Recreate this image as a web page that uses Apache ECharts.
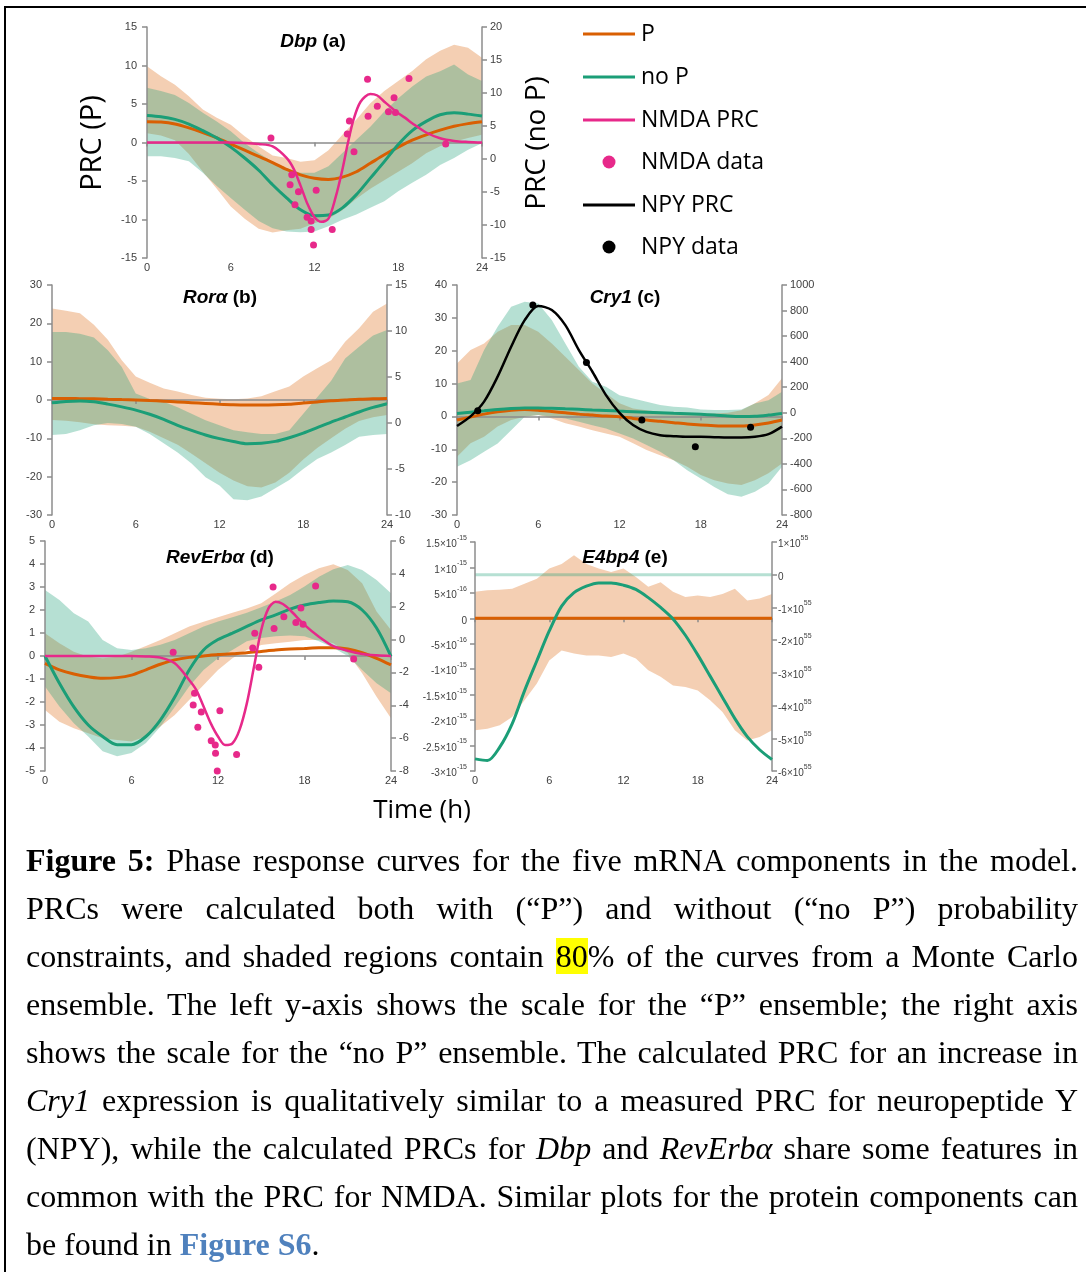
<!DOCTYPE html>
<html>
<head>
<meta charset="utf-8">
<script src="https://cdn.jsdelivr.net/npm/echarts@6/dist/echarts.min.js"></script>
<style>
html,body{margin:0;padding:0;background:#fff;overflow:hidden;}
#wrap{position:relative;width:1086px;height:1272px;overflow:hidden;}
#chart{position:absolute;left:0;top:0;width:1086px;height:1272px;}
#frame{position:absolute;left:4px;top:6px;width:1100px;height:1300px;border:2px solid #000;box-sizing:border-box;pointer-events:none;}
#caption{position:absolute;left:26px;top:836px;width:1052px;font-family:'Liberation Serif','Times New Roman',serif;font-size:32px;line-height:48px;color:#000;}
.ln{text-align:justify;text-align-last:justify;height:48px;}
.ln.last{text-align:left;text-align-last:left;}
.hl{background:#ffff00;}
.link{color:#4f81bd;font-weight:bold;}
</style>
</head>
<body>
<div id="wrap">
  <div id="chart"></div>
  <div id="frame"></div>
  <div id="caption">
    <div class="ln"><b>Figure 5:</b> Phase response curves for the five mRNA components in the model.</div>
    <div class="ln">PRCs were calculated both with (“P”) and without (“no P”) probability</div>
    <div class="ln">constraints, and shaded regions contain <span class="hl">80</span>% of the curves from a Monte Carlo</div>
    <div class="ln">ensemble. The left y-axis shows the scale for the “P” ensemble; the right axis</div>
    <div class="ln">shows the scale for the “no P” ensemble. The calculated PRC for an increase in</div>
    <div class="ln"><i>Cry1</i> expression is qualitatively similar to a measured PRC for neuropeptide Y</div>
    <div class="ln">(NPY), while the calculated PRCs for <i>Dbp</i> and <i>RevErbα</i> share some features in</div>
    <div class="ln">common with the PRC for NMDA. Similar plots for the protein components can</div>
    <div class="ln last">be found in <span class="link">Figure S6</span>.</div>
  </div>
</div>
<script>
// 时间 (h), 每小时一个点
var HOURS = [0,1,2,3,4,5,6,7,8,9,10,11,12,13,14,15,16,17,18,19,20,21,22,23,24];

// (a) Dbp  -- P 在左轴, no P 在右轴
var aP = [2.7,2.65,2.4,1.9,1.3,0.6,-0.2,-1.0,-1.8,-2.6,-3.5,-4.2,-4.65,-4.8,-4.5,-3.8,-2.7,-1.6,-0.6,0.3,1.0,1.6,2.1,2.45,2.7];
var aNoP = [6.6,6.4,6.0,5.3,4.3,3.2,1.8,0.15,-1.7,-3.9,-5.9,-7.7,-8.6,-8.5,-7.4,-5.4,-2.9,-0.4,2.2,4.3,5.7,6.7,7.0,6.8,6.5];
var aPHigh = [9.9,8.6,7.5,6.0,4.3,3.2,2.3,0.8,-0.5,-1.7,-2.0,-2.5,-2.3,-1.0,1.0,3.0,5.1,6.7,8.0,9.3,10.8,11.9,12.7,12.3,11.0];
var aPLow = [1.2,0.9,0.3,-1.5,-3.8,-6.0,-8.3,-9.9,-11.2,-11.7,-11.4,-11.2,-10.5,-9.9,-8.8,-7.3,-6.0,-4.9,-3.8,-2.7,-1.4,-0.5,0.1,0.6,1.0];
var aNoPHigh = [10.8,10.3,9.7,8.5,7.0,5.7,4.2,2.4,0.9,-0.4,-1.4,-2.1,-2.1,-1.1,0.9,2.9,4.9,7.2,9.2,11.0,12.5,13.3,14.3,12.8,11.8];
var aNoPLow = [0.4,0.4,0.15,-0.35,-2.1,-4.1,-5.9,-7.7,-9.4,-10.5,-11.0,-11.1,-11.0,-10.2,-9.2,-8.4,-7.4,-6.4,-4.9,-3.6,-2.4,-0.9,0.15,1.4,2.4];
var aNmdaHours = [0,2,4,6,7,8,9,10,10.5,11,11.5,12,12.5,13,13.5,14,14.4,14.8,15.3,16,16.5,17,18,18.5,19,20,21,22,23,24];
var aNmdaPrc = [0,0,0,0,-0.05,-0.2,-0.5,-2.0,-3.4,-5.6,-8.0,-9.7,-10.3,-9.9,-7.2,-3.5,0,3.0,5.3,6.3,6.1,5.3,3.8,3.2,2.5,1.3,0.55,0.2,0.07,0];
var aNmdaX = [8.88,10.37,10.25,10.85,10.6,11.47,11.76,11.76,11.93,12.12,13.27,14.35,14.5,14.83,15.8,15.84,16.5,17.3,17.7,17.8,18.77,21.4];
var aNmdaY = [0.57,-4.2,-5.5,-6.4,-8.1,-9.7,-10.2,-11.3,-13.3,-6.2,-11.3,1.1,2.8,-1.2,8.2,3.4,4.7,4.0,5.8,3.9,8.3,-0.2];

// (b) Rorα
var bP = [0.4,0.4,0.35,0.3,0.2,0.1,0,-0.15,-0.3,-0.5,-0.7,-0.9,-1.1,-1.25,-1.3,-1.3,-1.25,-1.1,-0.8,-0.5,-0.2,0,0.2,0.3,0.4];
var bNoP = [2.2,2.35,2.4,2.3,2.05,1.75,1.4,0.95,0.4,-0.25,-0.8,-1.3,-1.7,-2.0,-2.25,-2.2,-2.0,-1.6,-1.1,-0.5,0.1,0.65,1.2,1.7,2.1];
var bPHigh = [23.9,23.3,22.6,19.6,15.7,10.4,6.1,4.5,3.0,2.2,1.3,0.6,0.3,0.2,0.4,1.0,2.3,3.5,6.1,8.3,10.4,15.2,18.7,23.0,25.2];
var bPLow = [-5.2,-5.4,-5.8,-6.3,-6.6,-6.7,-7.0,-8.3,-10.0,-11.7,-14.0,-16.5,-19.0,-21.0,-22.5,-22.8,-21.5,-19.0,-15.5,-12.5,-10.0,-7.5,-5.5,-4.5,-3.9];
var bNoPHigh = [9.9,9.9,9.7,9.3,7.9,6.1,3.2,2.6,2.3,1.7,1.0,0.3,-0.25,-0.8,-1.0,-1.2,-1.2,-0.8,1.0,2.8,4.6,7.0,8.3,9.5,10.1];
var bNoPLow = [-1.3,-1.2,-0.8,-0.25,0,-0.1,-0.4,-1.2,-2.2,-3.2,-4.4,-5.9,-6.8,-8.3,-8.4,-8.0,-7.1,-6.2,-5.0,-3.9,-3.2,-2.4,-1.5,-1.3,-1.2];

// (c) Cry1
var cP = [-1.1,-0.2,0.7,1.4,1.9,2.1,1.9,1.5,1.1,0.7,0.4,0.1,-0.1,-0.6,-1.1,-1.5,-1.9,-2.3,-2.6,-2.8,-2.9,-2.9,-2.6,-2.0,-1.1];
var cNoP = [-5,5,15,26,34,38,38,35,31,27,22,18,13,9,5,1,-3,-7,-12,-18,-26,-30,-28,-18,-5];
var cPHigh = [16.1,20.2,22.2,25.8,27.8,27.8,25.8,22.2,18.2,14.1,10.0,7.0,4.0,2.4,1.9,1.4,1.1,0.7,0.9,0.9,1.1,1.9,4.0,6.5,11.6];
var cPLow = [-12.3,-8.2,-6.2,-3.1,-1.1,-0.1,0.4,-0.6,-2.1,-3.1,-4.2,-5.2,-6.2,-8.2,-10.2,-11.8,-13.3,-15.3,-17.8,-19.4,-20.4,-20.9,-19.4,-17.3,-14.3];
var cNoPHigh = [230,256,491,674,830,869,856,726,543,360,243,204,138,112,86,60,47,42,26,21,21,26,73,99,164];
var cNoPLow = [-423,-371,-305,-240,-136,-31,-18,-31,-44,-70,-97,-123,-162,-201,-253,-305,-371,-449,-514,-580,-637,-658,-619,-553,-423];
var cNpyPrc = [-2.9,0,4.5,12.1,21.2,29.3,33.6,32.4,27.8,20.2,13.6,6.5,1.1,-2.6,-4.7,-5.7,-6.0,-6.2,-6.2,-6.3,-6.4,-6.4,-6.2,-5.4,-3.1];
var cNpyX = [1.53,5.6,9.56,13.65,17.6,21.68];
var cNpyY = [1.7,33.9,16.4,-1.1,-9.2,-3.3];

// (d) RevErbα
var dP = [-0.32,-0.6,-0.78,-0.9,-0.97,-0.94,-0.83,-0.6,-0.36,-0.17,-0.06,0,0.06,0.1,0.14,0.2,0.26,0.3,0.33,0.36,0.36,0.3,0.14,-0.1,-0.39];
var dNoP = [-1.0,-2.66,-4.1,-5.2,-5.9,-6.4,-6.4,-5.9,-4.9,-3.5,-1.85,-0.63,0,0.39,0.8,1.2,1.5,1.85,2.1,2.25,2.35,2.3,1.8,0.7,-1.03];
var dPHigh = [0.99,0.55,0.19,-0.03,-0.1,-0.03,0.19,0.43,0.7,0.99,1.28,1.49,1.68,1.88,2.07,2.29,2.72,3.16,3.52,3.81,3.99,3.74,3.16,1.93,1.13];
var dPLow = [-2.35,-2.86,-3.14,-3.36,-3.58,-3.65,-3.72,-3.5,-3.07,-2.57,-1.91,-1.26,-0.61,-0.1,0.26,0.48,0.55,0.62,0.7,0.7,0.55,0.12,-0.75,-1.77,-2.71];
var dNoPHigh = [3.02,2.41,1.6,1.1,-0.02,-0.53,-0.63,-0.53,-0.32,-0.02,0.39,0.79,1.1,1.36,1.64,1.97,2.31,2.72,3.23,3.83,4.28,4.54,4.24,3.63,2.82];
var dNoPLow = [-2.86,-4.08,-5.09,-5.9,-6.8,-7.1,-6.9,-6.3,-5.3,-4.1,-2.86,-1.85,-1.14,-0.63,-0.1,0.1,0.2,0.25,0.2,-0.1,-0.5,-1.0,-1.85,-2.66,-3.27];
var dNmdaHours = [0,2,4,6,7,8,9,10,10.5,11,11.5,12,12.5,13,13.5,14,14.5,15,15.5,16,16.5,17,18,19,20,21,22,23,24];
var dNmdaPrc = [0,0,0,0,-0.02,-0.07,-0.32,-1.04,-1.48,-2.2,-2.93,-3.5,-3.87,-3.8,-3.2,-2.06,-0.46,1.13,2.07,2.36,2.26,2.0,1.35,0.84,0.43,0.23,0.09,0.03,0];
var dNmdaX = [8.89,10.37,10.28,10.84,10.6,11.53,11.81,11.83,11.95,12.13,13.29,14.41,14.55,14.83,15.82,15.89,16.57,17.4,17.75,17.9,18.77,21.41];
var dNmdaY = [0.16,-1.62,-2.13,-2.43,-3.1,-3.68,-3.87,-4.23,-5.0,-2.38,-4.28,0.35,0.99,-0.49,3.0,1.2,1.71,1.46,2.09,1.38,3.04,-0.13];

// (e) E4bp4  左轴单位 1e-15, 右轴单位 1e55
var eFlatHours = [0,24];
var eP = [0,0];
var eNoP = [-5.63,-5.68,-5.27,-4.56,-3.55,-2.63,-1.72,-0.96,-0.55,-0.35,-0.25,-0.25,-0.32,-0.45,-0.7,-1.0,-1.35,-1.85,-2.45,-3.1,-3.75,-4.4,-4.95,-5.35,-5.65];
var ePHigh = [0.52,0.55,0.56,0.58,0.68,0.78,0.98,1.07,1.24,1.07,0.98,0.91,0.98,0.81,0.62,0.71,0.52,0.42,0.45,0.42,0.48,0.58,0.35,0.39,0.48];
var ePLow = [-2.2,-2.17,-2.1,-1.94,-1.61,-1.28,-0.83,-0.63,-0.69,-0.73,-0.73,-0.76,-0.69,-0.79,-1.02,-1.15,-1.32,-1.35,-1.42,-1.61,-1.84,-2.2,-2.4,-2.33,-2.2];
var eNoPHigh = [0.045,0.045];
var eNoPLow = [-0.045,-0.045];
var eLeftTickValues = [-3,-2.5,-2,-1.5,-1,-0.5,0,0.5,1,1.5];
var eLeftTickLabels = ['-3×10^-15','-2.5×10^-15','-2×10^-15','-1.5×10^-15','-1×10^-15','-5×10^-16','0','5×10^-16','1×10^-15','1.5×10^-15'];
var eRightTickValues = [-6,-5,-4,-3,-2,-1,0,1];
var eRightTickLabels = ['-6×10^55','-5×10^55','-4×10^55','-3×10^55','-2×10^55','-1×10^55','0','1×10^55'];

// 面板标题
var panelGenes = ['Dbp','Rorα','Cry1','RevErbα','E4bp4'];
var panelTags = ['(a)','(b)','(c)','(d)','(e)'];
// 图例
var legendNames = ['P','no P','NMDA PRC','NMDA data','NPY PRC','NPY data'];

// 颜色
var C_P = '#d95f02', C_NOP = '#1b9e77', C_NMDA = '#e7298a', C_NPY = '#000000';
var BAND_P = 'rgba(217,95,2,0.3)', BAND_NOP = 'rgba(27,158,119,0.32)';
var AXIS_COLOR = '#8c8c8c', LABEL_COLOR = '#404040';
var LEGEND_COLORS = [C_P, C_NOP, C_NMDA, C_NMDA, C_NPY, C_NPY];

// 布局
var GRIDS = [
	{left: 147, top: 27, width: 335, height: 231},
	{left: 52, top: 285, width: 335, height: 230},
	{left: 457, top: 285, width: 325, height: 230},
	{left: 45, top: 541, width: 346, height: 230},
	{left: 475, top: 542, width: 297, height: 229}
];
// [左min, 左max, 左间隔, 右min, 右max, 右间隔]
var RANGES = [
	[-15, 15, 5, -15, 20, 5],
	[-30, 30, 10, -10, 15, 5],
	[-30, 40, 10, -800, 1000, 200],
	[-5, 5, 1, -8, 6, 2],
	[-3, 1.5, 0.5, -6, 1, 1]
];
var TITLE_POS = [[313, 42], [220, 298], [625, 298], [220, 558], [625, 558]];
var LEGEND_Y = [34, 77, 120, 162, 205, 247];

function pairs(xs, ys) {
	return xs.map(function(x, i) { return [x, ys[i]]; });
}

function supLabel(values, labels) {
	return function(v) {
		var idx = 0;
		for (var i = 0; i < values.length; i++) {
			if (Math.abs(values[i] - v) < 1e-9) idx = i;
		}
		var s = labels[idx];
		var k = s.indexOf('^');
		if (k < 0) return '{n|' + s + '}';
		return '{n|' + s.slice(0, k) + '}{s|' + s.slice(k + 1) + '}';
	};
}

function plainLabel(v) {
	return String(v);
}

var supRich = {
	n: {fontSize: 10, color: LABEL_COLOR, fontFamily: 'Liberation Sans', lineHeight: 15, verticalAlign: 'bottom'},
	s: {fontSize: 7, color: LABEL_COLOR, fontFamily: 'Liberation Sans', lineHeight: 8, verticalAlign: 'top'}
};

function yAxis(g, side, min, max, interval, formatter) {
	var label = {
		color: LABEL_COLOR, fontSize: 11, fontFamily: 'Liberation Sans', margin: side ? 8 : 10,
		showMinLabel: true, showMaxLabel: true, formatter: plainLabel
	};
	if (formatter) {
		label.formatter = formatter;
		label.rich = supRich;
		label.margin = side ? 6 : 8;
	}
	return {
		type: 'value', gridIndex: g, position: side ? 'right' : 'left',
		min: min, max: max, interval: interval, z: 1,
		axisLine: {show: true, onZero: false, lineStyle: {color: AXIS_COLOR, width: 1.5}},
		axisTick: {show: true, length: 5, lineStyle: {color: AXIS_COLOR, width: 1.5}},
		axisLabel: label,
		splitLine: {show: false}
	};
}

function xAxis(g) {
	return {
		type: 'value', gridIndex: g, min: 0, max: 24, interval: 6, z: 1,
		axisLine: {show: true, onZero: true, onZeroAxisIndex: 2 * g, lineStyle: {color: AXIS_COLOR, width: 1.5}},
		axisTick: {show: true, length: 4, lineStyle: {color: AXIS_COLOR, width: 1.5}},
		axisLabel: {color: LABEL_COLOR, fontSize: 11, fontFamily: 'Liberation Sans', margin: 4, showMinLabel: true, showMaxLabel: true, formatter: plainLabel},
		splitLine: {show: false}
	};
}

// 置信带: 上下边界围成的多边形
function band(name, g, side, xs, lo, hi, color) {
	return {
		type: 'custom', name: name, xAxisIndex: g, yAxisIndex: 2 * g + side,
		z: 0, silent: true, clip: true,
		data: [[xs[0], lo[0]]],
		renderItem: function(params, api) {
			var pts = [];
			for (var i = 0; i < xs.length; i++) pts.push(api.coord([xs[i], hi[i]]));
			for (var j = xs.length - 1; j >= 0; j--) pts.push(api.coord([xs[j], lo[j]]));
			return {type: 'polygon', shape: {points: pts}, style: {fill: color}};
		}
	};
}

function curve(name, g, side, xs, ys, color, width, z) {
	return {
		type: 'line', name: name, xAxisIndex: g, yAxisIndex: 2 * g + side,
		data: pairs(xs, ys), smooth: 0.3, symbol: 'none', z: z,
		lineStyle: {color: color, width: width}, itemStyle: {color: color}
	};
}

function dots(name, g, side, xs, ys, color) {
	return {
		type: 'scatter', name: name, xAxisIndex: g, yAxisIndex: 2 * g + side,
		data: pairs(xs, ys), symbolSize: 7, z: 6,
		itemStyle: {color: color, opacity: 1}
	};
}

var series = [
	// (a)
	band('P band', 0, 0, HOURS, aPLow, aPHigh, BAND_P),
	band('no P band', 0, 1, HOURS, aNoPLow, aNoPHigh, BAND_NOP),
	curve('P', 0, 0, HOURS, aP, C_P, 3, 3),
	curve('no P', 0, 1, HOURS, aNoP, C_NOP, 3, 3),
	curve('NMDA PRC', 0, 0, aNmdaHours, aNmdaPrc, C_NMDA, 2.5, 4),
	dots('NMDA data', 0, 0, aNmdaX, aNmdaY, C_NMDA),
	// (b)
	band('P band', 1, 0, HOURS, bPLow, bPHigh, BAND_P),
	band('no P band', 1, 1, HOURS, bNoPLow, bNoPHigh, BAND_NOP),
	curve('P', 1, 0, HOURS, bP, C_P, 3, 3),
	curve('no P', 1, 1, HOURS, bNoP, C_NOP, 3, 3),
	// (c)
	band('P band', 2, 0, HOURS, cPLow, cPHigh, BAND_P),
	band('no P band', 2, 1, HOURS, cNoPLow, cNoPHigh, BAND_NOP),
	curve('P', 2, 0, HOURS, cP, C_P, 3, 3),
	curve('no P', 2, 1, HOURS, cNoP, C_NOP, 3, 3),
	curve('NPY PRC', 2, 0, HOURS, cNpyPrc, C_NPY, 2.5, 4),
	dots('NPY data', 2, 0, cNpyX, cNpyY, C_NPY),
	// (d)
	band('P band', 3, 0, HOURS, dPLow, dPHigh, BAND_P),
	band('no P band', 3, 1, HOURS, dNoPLow, dNoPHigh, BAND_NOP),
	curve('P', 3, 0, HOURS, dP, C_P, 3, 3),
	curve('no P', 3, 1, HOURS, dNoP, C_NOP, 3, 3),
	curve('NMDA PRC', 3, 0, dNmdaHours, dNmdaPrc, C_NMDA, 2.5, 4),
	dots('NMDA data', 3, 0, dNmdaX, dNmdaY, C_NMDA),
	// (e)
	band('P band', 4, 0, HOURS, ePLow, ePHigh, BAND_P),
	band('no P band', 4, 1, eFlatHours, eNoPLow, eNoPHigh, BAND_NOP),
	curve('P', 4, 0, eFlatHours, eP, C_P, 3, 3),
	curve('no P', 4, 1, HOURS, eNoP, C_NOP, 3, 3)
];

var xAxes = [], yAxes = [];
for (var g = 0; g < GRIDS.length; g++) {
	var r = RANGES[g];
	xAxes.push(xAxis(g));
	var lf = g === 4 ? supLabel(eLeftTickValues, eLeftTickLabels) : null;
	var rf = g === 4 ? supLabel(eRightTickValues, eRightTickLabels) : null;
	yAxes.push(yAxis(g, 0, r[0], r[1], r[2], lf));
	yAxes.push(yAxis(g, 1, r[3], r[4], r[5], rf));
}

var titleRich = {
	i: {fontStyle: 'italic', fontWeight: 'bold', fontSize: 19, fontFamily: 'Liberation Sans', color: '#000'},
	b: {fontWeight: 'bold', fontSize: 19, fontFamily: 'Liberation Sans', color: '#000'}
};
var graphics = panelGenes.map(function(gene, i) {
	return {
		type: 'text', x: TITLE_POS[i][0], y: TITLE_POS[i][1], z: 10,
		style: {text: '{i|' + gene + ' }{b|' + panelTags[i] + '}', rich: titleRich, align: 'center', verticalAlign: 'middle'}
	};
});
graphics.push({
	type: 'text', x: 93, y: 143, rotation: Math.PI / 2,
	style: {text: 'PRC (P)', font: '29px "Open Sans"', fill: '#000', align: 'center', verticalAlign: 'middle'}
});
graphics.push({
	type: 'text', x: 537, y: 143, rotation: Math.PI / 2,
	style: {text: 'PRC (no P)', font: '28px "Open Sans"', fill: '#000', align: 'center', verticalAlign: 'middle'}
});
graphics.push({
	type: 'text', x: 422, y: 811,
	style: {text: 'Time (h)', font: '26px "Open Sans"', fill: '#000', align: 'center', verticalAlign: 'middle'}
});

// 图例: 线段 / 圆点 + 文字
legendNames.forEach(function(name, i) {
	var y = LEGEND_Y[i];
	if (name.indexOf('data') >= 0) {
		graphics.push({type: 'circle', shape: {cx: 609, cy: y, r: 6.5}, style: {fill: LEGEND_COLORS[i]}});
	} else {
		graphics.push({type: 'line', shape: {x1: 583, y1: y, x2: 635, y2: y}, style: {stroke: LEGEND_COLORS[i], lineWidth: 3}});
	}
	graphics.push({
		type: 'text', x: 641, y: y,
		style: {text: name, font: '23px "Open Sans"', fill: '#000', align: 'left', verticalAlign: 'middle'}
	});
});

var chart = echarts.init(document.getElementById('chart'));
chart.setOption({
	animation: false,
	backgroundColor: 'transparent',
	grid: GRIDS.map(function(g) {
		return {left: g.left, top: g.top, width: g.width, height: g.height, containLabel: false, outerBoundsMode: 'none'};
	}),
	xAxis: xAxes,
	yAxis: yAxes,
	graphic: graphics,
	series: series
});
</script>
</body>
</html>
